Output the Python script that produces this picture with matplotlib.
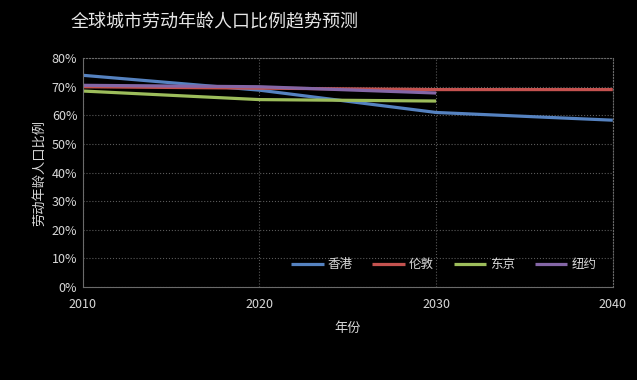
import matplotlib
matplotlib.use("Agg")
import matplotlib.pyplot as plt
from matplotlib.ticker import FuncFormatter

plt.rcParams['font.family'] = ['Noto Sans CJK SC', 'DejaVu Sans']

# data
years = [2010, 2020, 2030, 2040]
hongkong = [74.0, 68.8, 61.0, 58.3]
london = [70.0, 69.5, 69.0, 69.0]
tokyo = [68.5, 65.5, 65.0]
newyork = [70.5, 70.0, 67.8]

series = [
    ("香港", years, hongkong, "#5582c0"),
    ("伦敦", years, london, "#c4524f"),
    ("东京", years[:3], tokyo, "#9dbd5b"),
    ("纽约", years[:3], newyork, "#8466a6"),
]

fig = plt.figure(figsize=(6.37, 3.8), dpi=100, facecolor="black")
ax = fig.add_axes([0.130, 0.245, 0.832, 0.602], facecolor="black")

for name, xs, ys, col in series:
    ax.plot(xs, ys, color=col, linewidth=2.3, label=name, solid_capstyle="butt")

ax.set_xlim(2010, 2040)
ax.set_ylim(0, 80)
ax.set_xticks(years)
ax.set_yticks(range(0, 81, 10))
ax.yaxis.set_major_formatter(FuncFormatter(lambda v, p: "%d%%" % v))
ax.grid(True, color="#5a5a5a", linestyle=":", linewidth=0.8)
ax.set_axisbelow(True)
for s in ax.spines.values():
    s.set_color("#6a6a6a")
    s.set_linewidth(0.8)
ax.spines["top"].set_linestyle(":")
ax.spines["right"].set_linestyle(":")
ax.tick_params(colors="#d9d9d9", labelsize=9, length=0)
ax.tick_params(axis="x", pad=8)
ax.tick_params(axis="y", pad=4)

ax.set_xlabel("年份", color="#d9d9d9", fontsize=9.5, labelpad=8)
ax.set_ylabel("劳动年龄人口比例", color="#d9d9d9", fontsize=9.5, labelpad=4)

leg = ax.legend(loc="lower right", ncol=4, frameon=False, fontsize=9,
                handlelength=2.6, columnspacing=1.6, handletextpad=0.3,
                bbox_to_anchor=(0.99, 0.02))
for t in leg.get_texts():
    t.set_color("#d9d9d9")

fig.text(0.11, 0.94, "全球城市劳动年龄人口比例趋势预测", color="#e6e6e6",
         fontsize=13, ha="left", va="center")

fig.savefig("out.png", dpi=100, facecolor="black")
